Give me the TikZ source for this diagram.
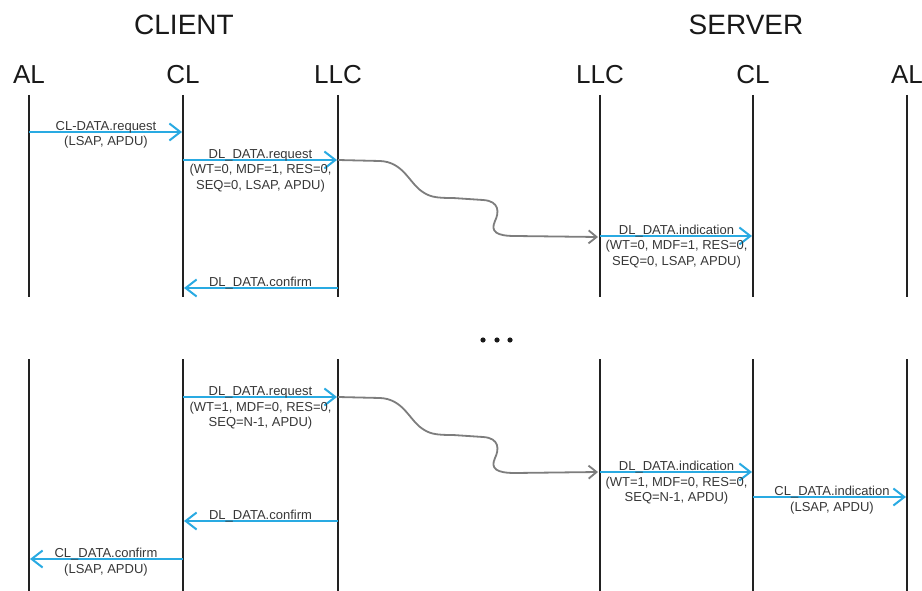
\documentclass[tikz,border=0pt]{standalone}
\usepackage{fontspec}
\setmainfont{Liberation Sans}
\usetikzlibrary{arrows.meta,calc}

\definecolor{msgblue}{RGB}{41,170,226}
\definecolor{lifegray}{RGB}{34,34,34}
\definecolor{wavegray}{RGB}{125,125,125}
\definecolor{labelgray}{RGB}{55,55,55}

% centred multi-line label whose baseline is that of its first line
\newcommand{\msgtext}[1]{\begin{tabular}[t]{@{}c@{}}#1\end{tabular}}

\tikzset{
  lifeline/.style={draw=lifegray, line width=2.2pt},
  msg/.style={draw=msgblue, line width=2pt, shorten >=1pt,
    -{Straight Barb[length=11pt,width=17pt]}},
  wave/.style={draw=wavegray, line width=1.8pt,
    -{Straight Barb[length=8pt,width=13pt]}},
  msglabel/.style={anchor=base, inner sep=0pt, text=labelgray,
    font=\fontsize{13}{15.5}\selectfont},
  heading/.style={inner sep=0pt, text=black!90, font=\fontsize{28}{30}\selectfont},
  layer/.style={inner sep=0pt, text=black!90, font=\fontsize{26}{28}\selectfont},
  dot/.style={fill=black!90},
}

\begin{document}
\begin{tikzpicture}[x=1pt, y=-1pt]
\useasboundingbox (0,0) rectangle (922,591);

% headings
\node[heading] (client) at (184,25) {CLIENT};
\node[heading] (server) at (746,25) {SERVER};

% layer names and lifelines (two segments each)
\foreach \n/\lbl/\x in {alc/AL/29, clc/CL/183, llcc/LLC/338,
                        llcs/LLC/600, cls/CL/753, als/AL/907} {
  \node[layer] (\n) at (\x,75) {\lbl};
  \coordinate (\n-t1) at (\x,95);
  \coordinate (\n-b1) at (\x,297);
  \coordinate (\n-t2) at (\x,359);
  \coordinate (\n-b2) at (\x,591);
  \draw[lifeline] (\n-t1) -- (\n-b1);
  \draw[lifeline] (\n-t2) -- (\n-b2);
}

% message end points
\coordinate (m1a) at (29,132);  \coordinate (m1b) at (183,132);
\coordinate (m2a) at (183,160); \coordinate (m2b) at (338,160);
\coordinate (m3a) at (600,236); \coordinate (m3b) at (753,236);
\coordinate (m4a) at (338,288); \coordinate (m4b) at (183,288);
\coordinate (m5a) at (183,397); \coordinate (m5b) at (338,397);
\coordinate (m6a) at (600,472); \coordinate (m6b) at (753,472);
\coordinate (m7a) at (753,497); \coordinate (m7b) at (907,497);
\coordinate (m8a) at (338,521); \coordinate (m8b) at (183,521);
\coordinate (m9a) at (183,559); \coordinate (m9b) at (29,559);
\coordinate (w1a) at (338,160); \coordinate (w1b) at (598,237);
\coordinate (w2a) at (338,397); \coordinate (w2b) at (598,472);

% transfers between the two LLC layers
\foreach \w in {w1, w2} {
  \begin{scope}[shift={(\w a)}]
    \draw[wave] (\w a) -- (42,1) .. controls (64,2) and (70,20) .. (82,30)
      .. controls (91,37) and (97,38) .. (115,38) -- (145,40)
      .. controls (162,41) and (161,53) .. (157,61)
      .. controls (152,72) and (159,76) .. (177,76) -- (\w b);
  \end{scope}
}

% service primitives
\foreach \m in {m1, m2, m3, m4, m5, m6, m7, m8, m9}
  \draw[msg] (\m a) -- (\m b);

\node[msglabel] (t1) at ($(m1a)!0.5!(m1b)+(0,-1.5)$)
  {\msgtext{CL-DATA.request\\(LSAP, APDU)}};
\node[msglabel] (t2) at ($(m2a)!0.5!(m2b)+(0,-1.5)$)
  {\msgtext{DL\_DATA.request\\(WT=0, MDF=1, RES=0,\\SEQ=0, LSAP, APDU)}};
\node[msglabel] (t3) at ($(m3a)!0.5!(m3b)+(0,-1.5)$)
  {\msgtext{DL\_DATA.indication\\(WT=0, MDF=1, RES=0,\\SEQ=0, LSAP, APDU)}};
\node[msglabel] (t4) at ($(m4a)!0.5!(m4b)+(0,-1.5)$)
  {\msgtext{DL\_DATA.confirm}};
\node[msglabel] (t5) at ($(m5a)!0.5!(m5b)+(0,-1.5)$)
  {\msgtext{DL\_DATA.request\\(WT=1, MDF=0, RES=0,\\SEQ=N-1, APDU)}};
\node[msglabel] (t6) at ($(m6a)!0.5!(m6b)+(0,-1.5)$)
  {\msgtext{DL\_DATA.indication\\(WT=1, MDF=0, RES=0,\\SEQ=N-1, APDU)}};
\node[msglabel] (t7) at ($(m7a)!0.5!(m7b)+(2,-1.5)$)
  {\msgtext{CL\_DATA.indication\\(LSAP, APDU)}};
\node[msglabel] (t8) at ($(m8a)!0.5!(m8b)+(0,-1.5)$)
  {\msgtext{DL\_DATA.confirm}};
\node[msglabel] (t9) at ($(m9a)!0.5!(m9b)+(0,-1.5)$)
  {\msgtext{CL\_DATA.confirm\\(LSAP, APDU)}};

% ellipsis between the two exchanges
\fill[dot] (483,340) circle (2.6);
\fill[dot] (497,340) circle (2.6);
\fill[dot] (510,340) circle (2.6);
\end{tikzpicture}
\end{document}
